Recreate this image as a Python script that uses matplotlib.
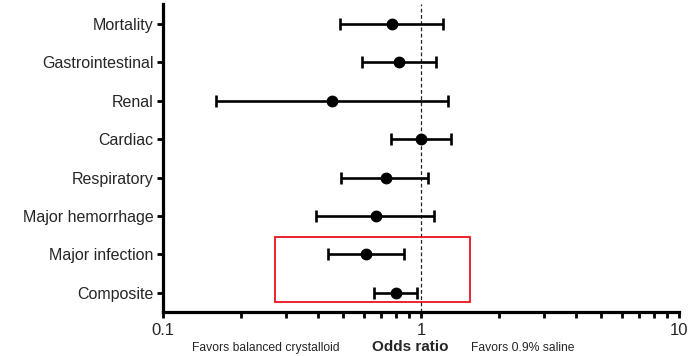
import matplotlib
matplotlib.use("Agg")
import matplotlib.pyplot as plt
from matplotlib.patches import Rectangle
from matplotlib.ticker import LogLocator, FixedLocator, NullFormatter

categories = ["Mortality", "Gastrointestinal", "Renal", "Cardiac",
              "Respiratory", "Major hemorrhage", "Major infection", "Composite"]
odds_ratio = [0.77, 0.82, 0.45, 1.00, 0.73, 0.67, 0.61, 0.80]
ci_lower = [0.485, 0.59, 0.161, 0.767, 0.491, 0.391, 0.436, 0.657]
ci_upper = [1.22, 1.14, 1.27, 1.31, 1.067, 1.12, 0.856, 0.965]
x_tick_values = [0.1, 1, 10]
x_tick_labels = ["0.1", "1", "10"]
highlight_categories = ["Major infection", "Composite"]

plt.rcParams['font.family'] = ['Liberation Sans', 'DejaVu Sans']
txt = '#262626'

fig = plt.figure(figsize=(6.95, 3.56), dpi=100)
ax = fig.add_axes([0.2345, 0.1236, 0.7425, 0.8652])

y = list(range(len(categories)))
err_lo = [o - l for o, l in zip(odds_ratio, ci_lower)]
err_hi = [u - o for o, u in zip(odds_ratio, ci_upper)]
ax.errorbar(odds_ratio, y, xerr=[err_lo, err_hi], fmt='o', color='black',
            ecolor='black', elinewidth=1.9, capsize=4.5, capthick=1.9,
            markersize=7.5, zorder=3)

ax.axvline(1, color='#222222', linestyle=(0, (3, 2)), linewidth=0.9, zorder=2)

ax.set_xscale('log')
ax.set_xlim(0.1, 10)
ax.set_ylim(7.5, -0.52)

ax.xaxis.set_major_locator(FixedLocator(x_tick_values))
ax.set_xticklabels(x_tick_labels, fontsize=12, color=txt)
ax.xaxis.set_minor_locator(LogLocator(base=10, subs=range(2, 10)))
ax.xaxis.set_minor_formatter(NullFormatter())
ax.tick_params(axis='x', which='both', direction='out', length=4, width=2,
               pad=4)

ax.set_yticks(y)
ax.set_yticklabels(categories, fontsize=11.5, color=txt)
ax.tick_params(axis='y', direction='out', length=4, width=2, pad=3)

for s in ['top', 'right']:
    ax.spines[s].set_visible(False)
for s in ['left', 'bottom']:
    ax.spines[s].set_linewidth(2.3)

# highlight box
i0 = categories.index(highlight_categories[0])
i1 = categories.index(highlight_categories[1])
rect = Rectangle((0.272, i0 - 0.44), 1.55 - 0.272, (i1 + 0.23) - (i0 - 0.44),
                 fill=False, edgecolor='#e8141c', linewidth=1.3, zorder=4,
                 clip_on=False)
ax.add_patch(rect)

fig.text(410 / 695, 1 - 347 / 356, "Odds ratio", fontsize=11,
         fontweight='bold', ha='center', va='center', color=txt)
fig.text(266 / 695, 1 - 348 / 356, "Favors balanced crystalloid", fontsize=8.7,
         ha='center', va='center', color=txt)
fig.text(523 / 695, 1 - 348 / 356, "Favors 0.9% saline", fontsize=8.7,
         ha='center', va='center', color=txt)

fig.savefig("out.png", dpi=100)
